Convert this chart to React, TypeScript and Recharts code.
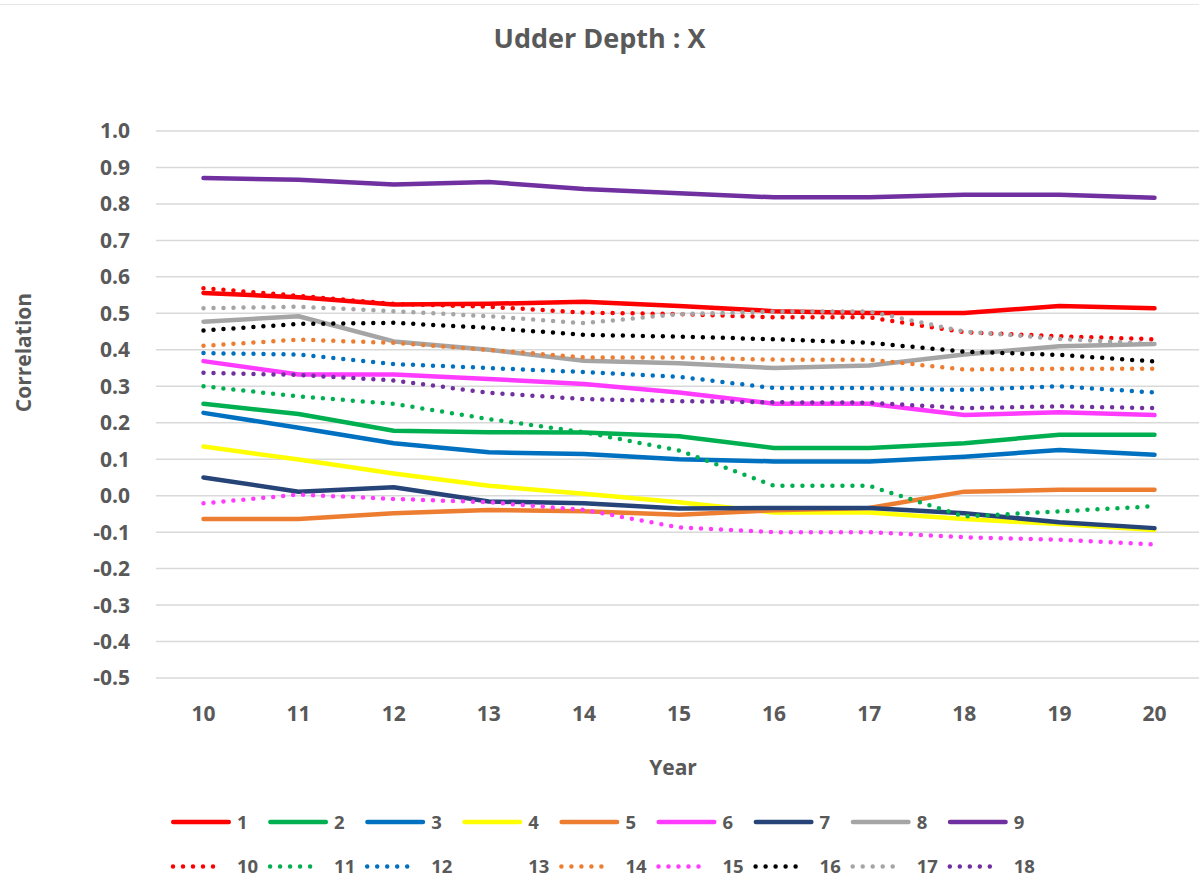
import { CartesianGrid, Line, LineChart, XAxis, YAxis } from "recharts";

const years = ["10", "11", "12", "13", "14", "15", "16", "17", "18", "19", "20"];
const yTicks = [-0.5, -0.4, -0.3, -0.2, -0.1, 0, 0.1, 0.2, 0.3, 0.4, 0.5, 0.6, 0.7, 0.8, 0.9, 1.0];

const s1 = [0.556, 0.544, 0.524, 0.526, 0.532, 0.52, 0.506, 0.501, 0.501, 0.52, 0.514];
const s2 = [0.252, 0.224, 0.178, 0.174, 0.173, 0.163, 0.131, 0.131, 0.144, 0.167, 0.167];
const s3 = [0.227, 0.186, 0.144, 0.119, 0.114, 0.1, 0.094, 0.094, 0.107, 0.125, 0.112];
const s4 = [0.135, 0.099, 0.061, 0.027, 0.005, -0.018, -0.046, -0.046, -0.064, -0.078, -0.094];
const s5 = [-0.064, -0.064, -0.048, -0.039, -0.043, -0.052, -0.04, -0.034, 0.011, 0.016, 0.016];
const s6 = [0.369, 0.332, 0.332, 0.32, 0.306, 0.283, 0.252, 0.252, 0.221, 0.229, 0.221];
const s7 = [0.05, 0.011, 0.023, -0.016, -0.021, -0.035, -0.034, -0.034, -0.048, -0.073, -0.089];
const s8 = [0.477, 0.492, 0.423, 0.4, 0.37, 0.363, 0.35, 0.357, 0.387, 0.41, 0.416];
const s9 = [0.871, 0.866, 0.853, 0.86, 0.841, 0.829, 0.818, 0.818, 0.825, 0.825, 0.817];
const s10 = [0.569, 0.548, 0.526, 0.518, 0.502, 0.498, 0.489, 0.489, 0.448, 0.437, 0.429];
const s11 = [0.3, 0.272, 0.252, 0.21, 0.174, 0.124, 0.027, 0.027, -0.057, -0.043, -0.029];
const s12 = [0.391, 0.387, 0.361, 0.35, 0.339, 0.326, 0.295, 0.295, 0.29, 0.3, 0.283];
const s14 = [0.411, 0.428, 0.419, 0.4, 0.379, 0.379, 0.373, 0.373, 0.346, 0.348, 0.348];
const s15 = [-0.021, 0.003, -0.009, -0.018, -0.039, -0.087, -0.1, -0.1, -0.114, -0.121, -0.134];
const s16 = [0.453, 0.471, 0.474, 0.46, 0.441, 0.436, 0.429, 0.419, 0.395, 0.386, 0.368];
const s17 = [0.514, 0.518, 0.506, 0.492, 0.473, 0.498, 0.505, 0.505, 0.45, 0.43, 0.416];
const s18 = [0.337, 0.331, 0.316, 0.282, 0.265, 0.259, 0.256, 0.255, 0.24, 0.245, 0.24];

// series 13 has no visible line in the original, only its legend label
const seriesValues: Record<string, number[] | null> = {
  "1": s1, "2": s2, "3": s3, "4": s4, "5": s5, "6": s6, "7": s7, "8": s8, "9": s9,
  "10": s10, "11": s11, "12": s12, "13": null, "14": s14, "15": s15, "16": s16, "17": s17, "18": s18,
};

const seriesStyle = [
  { name: "1", color: "#FF0000", dotted: false },
  { name: "2", color: "#00B050", dotted: false },
  { name: "3", color: "#0070C0", dotted: false },
  { name: "4", color: "#FFFF00", dotted: false },
  { name: "5", color: "#ED7D31", dotted: false },
  { name: "6", color: "#FF3BFF", dotted: false },
  { name: "7", color: "#264478", dotted: false },
  { name: "8", color: "#A5A5A5", dotted: false },
  { name: "9", color: "#7030A0", dotted: false },
  { name: "10", color: "#FF0000", dotted: true },
  { name: "11", color: "#00B050", dotted: true },
  { name: "12", color: "#0070C0", dotted: true },
  { name: "13", color: "none", dotted: true },
  { name: "14", color: "#ED7D31", dotted: true },
  { name: "15", color: "#FF3BFF", dotted: true },
  { name: "16", color: "#000000", dotted: true },
  { name: "17", color: "#A5A5A5", dotted: true },
  { name: "18", color: "#7030A0", dotted: true },
];

const rows = years.map((year, i) => {
  const row: Record<string, string | number> = { year };
  for (const [k, v] of Object.entries(seriesValues)) {
    if (v) row["s" + k] = v[i];
  }
  return row;
});

const TEXT = "#595959";
const FONT = "'Open Sans', sans-serif";

function LegendOverlay() {
  return (
    <svg width={1199} height={89} style={{ position: "absolute", left: 0, top: 790 }}>
      {seriesStyle.map((s) => {
        const idx = Number(s.name) - 1;
        const row = s.dotted ? 1 : 0;
        const col = s.dotted ? idx - 9 : idx;
        const x0 = 171 + col * 97.1;
        const cy = row ? 76.5 : 32;
        return (
          <g key={s.name}>
            {s.color !== "none" &&
              (s.dotted ? (
                <line x1={x0 + 2} x2={x0 + 52} y1={cy} y2={cy} stroke={s.color} strokeWidth={4.5}
                  strokeLinecap="round" strokeDasharray="0 10" />
              ) : (
                <line x1={x0 + 2.25} x2={x0 + 57.75} y1={cy} y2={cy} stroke={s.color} strokeWidth={4.5}
                  strokeLinecap="round" />
              ))}
            <text x={x0 + 66} y={cy + 6.6} fontSize={18.5} fontWeight={700} fill={TEXT} fontFamily={FONT}>
              {s.name}
            </text>
          </g>
        );
      })}
    </svg>
  );
}

export default function App() {
  return (
    <div
      style={{
        position: "absolute", left: 0, top: 0, width: 1199, height: 879,
        overflow: "hidden", background: "#fff", fontFamily: FONT,
      }}
    >
      <div style={{ position: "absolute", left: 0, top: 4, width: 1199, height: 1, background: "#E6E6E6" }} />
      <LineChart width={1202} height={879} data={rows} margin={{ top: 131, right: 0, left: 0, bottom: 0 }}>
        <CartesianGrid vertical={false} stroke="#D9D9D9" strokeWidth={1.5} />
        <XAxis
          dataKey="year"
          height={201}
          padding={{ left: 47.5, right: 47.5 }}
          axisLine={false}
          tickLine={false}
          tickSize={0}
          tickMargin={28}
          tick={{ fill: TEXT, fontSize: 21, fontWeight: 700, fontFamily: FONT }}
        />
        <YAxis
          width={156}
          domain={[-0.5, 1.0]}
          ticks={yTicks}
          interval={0}
          axisLine={false}
          tickLine={false}
          tickSize={0}
          tickMargin={26}
          tickFormatter={(v: number) => v.toFixed(1)}
          tick={{ fill: TEXT, fontSize: 21, fontWeight: 700, fontFamily: FONT }}
        />
        {seriesStyle
          .filter((s) => seriesValues[s.name])
          .map((s) => (
            <Line
              key={s.name}
              type="linear"
              dataKey={"s" + s.name}
              name={s.name}
              stroke={s.color}
              strokeWidth={4.5}
              strokeLinecap="round"
              strokeLinejoin="round"
              strokeDasharray={s.dotted ? "0 10" : undefined}
              dot={false}
              activeDot={false}
              isAnimationActive={false}
            />
          ))}
      </LineChart>
      <div
        style={{
          position: "absolute", left: 0, top: 24, width: 1199, textAlign: "center",
          fontSize: 27, lineHeight: "27px", fontWeight: 700, color: TEXT,
        }}
      >
        Udder Depth : X
      </div>
      <div
        style={{
          position: "absolute", left: 573, top: 757, width: 200, textAlign: "center",
          fontSize: 21, lineHeight: "21px", fontWeight: 700, color: TEXT,
        }}
      >
        Year
      </div>
      <div
        style={{
          position: "absolute", left: 23 - 100, top: 352 - 10.5, width: 200, height: 21, textAlign: "center",
          fontSize: 21, lineHeight: "21px", fontWeight: 700, color: TEXT, transform: "rotate(-90deg)",
        }}
      >
        Correlation
      </div>
      <LegendOverlay />
    </div>
  );
}
